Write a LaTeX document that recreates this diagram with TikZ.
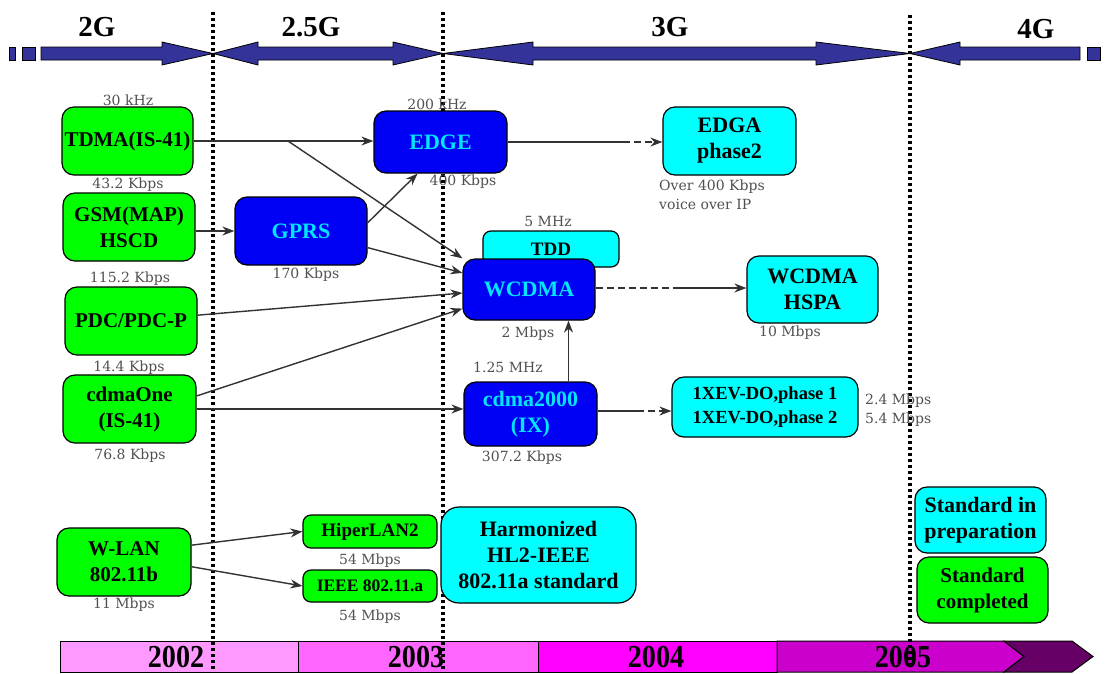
\documentclass[tikz,border=0pt]{standalone}
\usepackage{fontspec}
\setmainfont{Liberation Serif}
\newfontfamily\labelfamily{DejaVu Serif}
\usetikzlibrary{arrows.meta}

\definecolor{barblue}{RGB}{51,51,153}
\definecolor{boxgreen}{RGB}{0,255,0}
\definecolor{boxblue}{RGB}{0,0,245}
\definecolor{boxcyan}{RGB}{0,255,255}
\definecolor{textcyan}{RGB}{0,230,255}
\definecolor{yearA}{RGB}{255,153,255}
\definecolor{yearB}{RGB}{255,102,255}
\definecolor{yearC}{RGB}{255,0,255}
\definecolor{yearD}{RGB}{204,0,204}
\definecolor{yearE}{RGB}{102,0,102}
\definecolor{lblgray}{RGB}{80,80,80}
\definecolor{wiregray}{RGB}{50,50,50}

\newcommand\boxfont[2]{\bfseries\fontsize{#1}{#2}\selectfont}
\newcommand\lblfont{\labelfamily\fontsize{14}{19}\selectfont}

\tikzset{
  techbox/.style={draw=black, line width=1.2pt, rounded corners=12pt,
    align=center, inner sep=0pt, font=\boxfont{21}{26}},
  gbox/.style={techbox, fill=boxgreen},
  bbox/.style={techbox, fill=boxblue, text=textcyan, font=\boxfont{22}{26}},
  cbox/.style={techbox, fill=boxcyan, font=\boxfont{22}{26}},
  lbl/.style={inner sep=0pt, text=lblgray, font=\lblfont},
  wire/.style={draw=wiregray, line width=1.4pt},
  link/.style={wire, -{Stealth[length=12pt,width=9pt]}},
  dashlink/.style={link, dash pattern=on 7pt off 4pt},
  dashwire/.style={wire, dash pattern=on 7pt off 4pt},
  eraarrow/.style={draw=black, line width=0.8pt, fill=barblue},
  eralbl/.style={inner sep=0pt, font=\boxfont{29}{29}},
  epochline/.style={line width=3.4pt, dash pattern=on 3pt off 3pt},
  yearseg/.style={draw=black, line width=1pt},
  yearlbl/.style={inner sep=0pt, font=\boxfont{32}{32}},
}

\begin{document}
\begin{tikzpicture}[x=1pt,y=-1pt]
\path[use as bounding box] (0,0) rectangle (1105,673);

% ---- year timeline ----
\fill[yearA, yearseg] (60,641) rectangle (298,672);
\fill[yearB, yearseg] (298,641) rectangle (538,672);
\fill[yearC, yearseg] (538,641) rectangle (777,672);
\filldraw[yearD, yearseg] (777,641) -- (1004,641) -- (1024,656.5) -- (1004,672) -- (777,672) -- cycle;
\filldraw[yearE, yearseg] (1004,641) -- (1072,641) -- (1093,656.5) -- (1072,672) -- (1004,672) -- (1024,656.5) -- cycle;
\node[yearlbl] (y2002) at (176,657.5) {\scalebox{0.88}[1]{2002}};
\node[yearlbl] (y2003) at (416,657.5) {\scalebox{0.88}[1]{2003}};
\node[yearlbl] (y2004) at (656,657.5) {\scalebox{0.88}[1]{2004}};
\node[yearlbl] (y2005) at (903,657.5) {\scalebox{0.88}[1]{2005}};

% ---- generation arrows ----
\filldraw[eraarrow] (9,47) rectangle (15,60);
\filldraw[eraarrow] (22,47) rectangle (35,60);
\filldraw[eraarrow] (41,47) -- (162,47) -- (162,42) -- (213,53.5) -- (162,65) -- (162,60) -- (41,60) -- cycle;
\filldraw[eraarrow] (213,53.5) -- (258,42) -- (258,47) -- (393,47) -- (393,42) -- (443,53.5)
  -- (393,65) -- (393,60) -- (258,60) -- (258,65) -- cycle;
\filldraw[eraarrow] (443,53.5) -- (533,42) -- (533,47) -- (816,47) -- (816,42) -- (910,53.5)
  -- (816,65) -- (816,60) -- (533,60) -- (533,65) -- cycle;
\filldraw[eraarrow] (910,53.5) -- (960,42) -- (960,47) -- (1080,47) -- (1080,60) -- (960,60) -- (960,65) -- cycle;
\filldraw[eraarrow] (1087,47) rectangle (1100,60);
\node[eralbl] (g2) at (97,27) {2G};
\node[eralbl] (g25) at (311,27) {2.5G};
\node[eralbl] (g3) at (670,27) {3G};
\node[eralbl] (g4) at (1036,29) {4G};

% ---- generation boundaries ----
\draw[epochline] (213,12) -- (213,673);
\draw[epochline] (443,12) -- (443,673);
\draw[epochline] (910,15) -- (910,666);

% ---- rate / bandwidth labels ----
\node[lbl] (l30k) at (128,100) {30 kHz};
\node[lbl] (l432) at (128,185) {43.2 Kbps};
\node[lbl] (l1152) at (130,279) {115.2 Kbps};
\node[lbl] (l144) at (129,368) {14.4 Kbps};
\node[lbl] (l768) at (130,456) {76.8 Kbps};
\node[lbl] (l11) at (124,605) {11 Mbps};
\node[lbl] (l170) at (306,275) {170 Kbps};
\node[lbl] (l200k) at (437,104) {200 kHz};
\node[lbl] (l400) at (463,182) {400 Kbps};
\node[lbl, align=left, anchor=west] (lvoip) at (659,195) {Over 400 Kbps\\voice over IP};
\node[lbl] (l5m) at (548,221) {5 MHz};
\node[lbl] (l2m) at (528,334) {2 Mbps};
\node[lbl] (l10m) at (790,333) {10 Mbps};
\node[lbl] (l125) at (508,367) {1.25 MHz};
\node[lbl] (l3072) at (522,458) {307.2 Kbps};
\node[lbl, align=left, anchor=west] (lev) at (865,410) {2.4 Mbps\\5.4 Mbps};
\node[lbl] (l54a) at (370,561) {54 Mbps};
\node[lbl] (l54b) at (370,617) {54 Mbps};

% ---- technology boxes ----
\node[gbox, minimum width=131pt, minimum height=68pt] (tdma) at (127.5,141) {TDMA(IS-41)};
\node[gbox, minimum width=132pt, minimum height=68pt] (gsm) at (129,227) {GSM(MAP)\\HSCD};
\node[gbox, minimum width=132pt, minimum height=68pt] (pdc) at (131,321) {PDC/PDC-P};
\node[gbox, minimum width=133pt, minimum height=68pt] (cdmaone) at (129.5,409) {cdmaOne\\(IS-41)};
\node[gbox, minimum width=134pt, minimum height=68pt] (wlan) at (124,562) {W-LAN\\802.11b};

\node[bbox, minimum width=132pt, minimum height=68pt] (gprs) at (301,231) {GPRS};
\node[bbox, minimum width=133pt, minimum height=62pt] (edge) at (440.5,142) {EDGE};
\node[cbox, minimum width=136pt, minimum height=36pt, rounded corners=8pt, font=\boxfont{19}{22}] (tdd) at (551,249) {TDD};
\node[bbox, minimum width=132pt, minimum height=61pt] (wcdma) at (529,289.5) {WCDMA};
\node[bbox, minimum width=133pt, minimum height=64pt] (cdma) at (530.5,414) {cdma2000\\(IX)};

\node[cbox, minimum width=133pt, minimum height=68pt] (edga) at (729.5,141) {EDGA\\phase2};
\node[cbox, minimum width=131pt, minimum height=67pt] (hspa) at (812.5,289.5) {WCDMA\\HSPA};
\node[cbox, minimum width=186pt, minimum height=60pt, font=\boxfont{18.5}{24}] (evdo) at (765,407) {1XEV-DO,phase 1\\1XEV-DO,phase 2};

\node[gbox, minimum width=134pt, minimum height=33pt, rounded corners=8pt, font=\boxfont{19}{22}] (hiper) at (370,531.5) {HiperLAN2};
\node[gbox, minimum width=134pt, minimum height=32pt, rounded corners=8pt, font=\boxfont{17.5}{22}] (ieee) at (370,586) {IEEE 802.11.a};
\node[cbox, minimum width=195pt, minimum height=96pt, rounded corners=18pt] (harm) at (538.5,555) {Harmonized\\HL2-IEEE\\802.11a standard};

\node[cbox, minimum width=131pt, minimum height=66pt] (prep) at (980.5,520) {Standard in\\preparation};
\node[gbox, minimum width=131pt, minimum height=66pt] (done) at (982.5,590) {Standard\\completed};

% ---- evolution paths ----
\draw[link] (tdma.east) -- (tdma.east -| edge.west);
\coordinate (split) at (288,141);
\draw[link] (split) -- (wcdma.north west);
\draw[link] (gsm.east |- gprs.west) -- (gprs.west);
\draw[link] (gprs.7) -- (edge.234);
\draw[link] (gprs.-14) -- (wcdma.166);
\draw[link] (pdc.5) -- (wcdma.183);
\draw[link] (cdmaone.11) -- (wcdma.196);
\draw[link] (cdmaone.east) -- (cdmaone.east -| cdma.west);
\coordinate (upfoot) at ([xshift=38pt]cdma.north);
\draw[link] (upfoot) -- (upfoot |- wcdma.south);

\coordinate (edgebreak) at (623,142);
\draw[wire] (edge.east |- edgebreak) -- (edgebreak);
\draw[dashlink] (edgebreak) -- (edgebreak -| edga.west);

\coordinate (wcdmabreak) at (678,288);
\draw[dashwire] (wcdma.east |- wcdmabreak) -- (wcdmabreak);
\draw[link] (wcdmabreak) -- (wcdmabreak -| hspa.west);

\coordinate (cdmabreak) at (637,411);
\draw[wire] (cdma.east |- cdmabreak) -- (cdmabreak);
\draw[dashlink] (cdmabreak) -- (cdmabreak -| evdo.west);

\draw[link] (wlan.14) -- (hiper.west);
\draw[link] (wlan.-4) -- (ieee.west);
\end{tikzpicture}
\end{document}
